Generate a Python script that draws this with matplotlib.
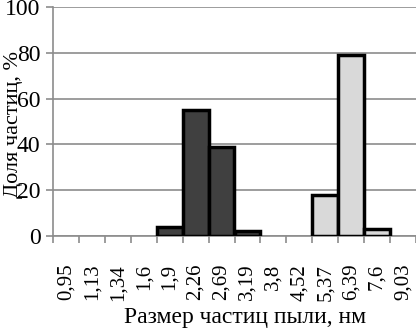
import numpy as np
import matplotlib.pyplot as plt

plt.rcParams['font.family'] = ['Liberation Serif', 'DejaVu Serif']

sizes = ['0,95', '1,13', '1,34', '1,6', '1,9', '2,26', '2,69', '3,19',
         '3,8', '4,52', '5,37', '6,39', '7,6', '9,03']
dark = [0, 0, 0, 0, 4, 55, 39, 2, 0, 0, 0, 0, 0, 0]
light = [0, 0, 0, 0, 0, 0, 0, 0, 0, 0, 18, 79, 3, 0]

x = np.arange(len(sizes))
fig = plt.figure(figsize=(4.16, 3.32), dpi=100)
ax = fig.add_axes([53/416, 96/332, 1 - 53/416, 229/332])

grid_c = '#8c8c8c'
for vals, col in [(dark, '#404040'), (light, '#d9d9d9')]:
    v = np.array(vals, dtype=float)
    m = v > 0
    ax.bar(x[m], v[m], width=1.0, color=col, edgecolor='black', linewidth=2.5, zorder=3)

ax.set_ylim(0, 100)
ax.set_xlim(-0.5, len(sizes) - 0.5)
ax.set_yticks(range(0, 101, 20))
ax.yaxis.grid(True, color=grid_c, linewidth=1.2, zorder=0)
ax.set_xticks(x)
ax.set_xticklabels(sizes, rotation=90, fontsize=15)
ax.set_xticks(np.arange(-0.5, len(sizes)), minor=True)
ax.tick_params(axis='x', which='major', length=0, pad=20)
ax.tick_params(axis='x', which='minor', length=5, color=grid_c, width=1.2)
ax.tick_params(axis='y', length=5, color=grid_c, width=1.2, labelsize=17, pad=4)
for s in ['top', 'right']:
    ax.spines[s].set_visible(False)
for s in ['left', 'bottom']:
    ax.spines[s].set_color(grid_c)
    ax.spines[s].set_linewidth(1.2)

fig.text(14/416, 1 - 124/332, 'Доля частиц, %', fontsize=16, rotation=90,
         ha='center', va='center')
fig.text(245/416, 1 - 318/332, 'Размер частиц пыли, нм', fontsize=17,
         ha='center', va='center')

fig.savefig('out.png', dpi=100)
